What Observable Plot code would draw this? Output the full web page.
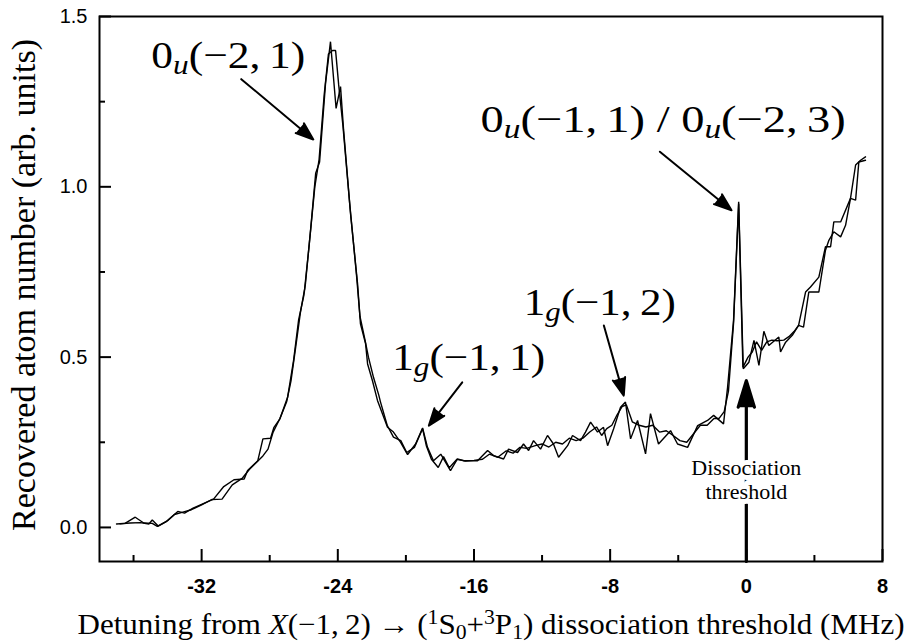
<!DOCTYPE html>
<html><head><meta charset="utf-8">
<script src="https://cdn.jsdelivr.net/npm/d3@7"></script>
<script src="https://cdn.jsdelivr.net/npm/@observablehq/plot@0.6"></script>
<style>body{margin:0;background:#fff}</style>
</head><body><div id="chart"></div>
<script>
// ---- data: two overlapping scans ----
const scanA_x = [-37.0,-36.5,-35.9,-35.4,-34.9,-34.6,-34.0,-33.4,-33.0,-32.5,-31.9,-31.3,-30.7,-30.1,-29.5,-29.3,-28.7,-28.4,-27.95,-27.75,-27.4,-26.95,-26.6,-26.3,-26.0,-25.9,-25.6,-25.3,-25.07,-24.72,-24.43,-24.10,-23.84,-23.66,-23.25,-22.84,-22.67,-22.37,-22.25,-21.96,-21.67,-21.08,-20.73,-20.31,-19.90,-19.43,-19.02,-18.73,-18.38,-17.95,-17.38,-16.97,-16.61,-15.79,-15.20,-14.85,-14.26,-13.97,-13.44,-13.09,-12.79,-12.50,-12.09,-11.68,-11.33,-11.03,-10.50,-10.21,-9.74,-9.45,-9.15,-8.74,-8.39,-8.15,-7.80,-7.39,-7.10,-6.80,-6.39,-5.92,-5.63,-5.16,-4.45,-4.04,-3.45,-2.86,-2.28,-1.92,-1.34,-1.10,-0.75,-0.45,-0.18,0.15,0.45,0.74,1.03,1.32,1.91,2.01,2.31,2.70,3.07,3.36,3.67,4.26,4.65,4.85,5.14,5.54,5.83,6.12,6.42,6.61,7.0];
const scanA_y = [0.010,0.012,0.030,0.013,0.012,0.003,0.020,0.047,0.042,0.057,0.070,0.083,0.120,0.140,0.142,0.167,0.196,0.260,0.262,0.294,0.319,0.382,0.49,0.61,0.68,0.716,0.873,1.04,1.073,1.304,1.426,1.23,1.294,1.167,0.92,0.716,0.598,0.54,0.48,0.43,0.373,0.294,0.28,0.25,0.214,0.245,0.292,0.235,0.196,0.215,0.167,0.201,0.196,0.196,0.226,0.211,0.201,0.230,0.220,0.245,0.226,0.255,0.230,0.270,0.245,0.206,0.240,0.270,0.255,0.280,0.309,0.280,0.294,0.240,0.289,0.353,0.368,0.260,0.314,0.216,0.334,0.245,0.284,0.245,0.235,0.299,0.314,0.329,0.304,0.412,0.608,0.956,0.466,0.485,0.549,0.476,0.576,0.534,0.559,0.515,0.544,0.564,0.593,0.588,0.691,0.691,0.814,0.843,0.868,0.853,0.887,0.966,0.961,1.073,1.078];
const scanB_x = [-36.8,-36.2,-35.6,-35.1,-34.9,-34.55,-34.1,-33.6,-33.1,-32.6,-32.0,-31.4,-30.8,-30.2,-29.6,-29.2,-28.8,-28.4,-28.1,-27.8,-27.4,-27.0,-26.75,-26.5,-26.2,-25.95,-25.7,-25.35,-25.1,-24.8,-24.55,-24.31,-24.13,-23.95,-23.7,-23.3,-22.9,-22.7,-22.4,-22.2,-21.9,-21.6,-21.49,-21.1,-20.73,-20.3,-19.95,-19.5,-19.02,-18.8,-18.5,-18.1,-17.79,-17.45,-17.0,-16.5,-16.0,-15.5,-15.1,-14.6,-14.1,-13.7,-13.3,-12.9,-12.4,-12.0,-11.6,-11.2,-10.8,-10.4,-10.0,-9.6,-9.2,-8.8,-8.5,-8.2,-7.9,-7.6,-7.3,-7.05,-6.7,-6.3,-5.9,-5.5,-5.1,-4.7,-4.3,-3.9,-3.5,-3.1,-2.7,-2.3,-1.9,-1.6,-1.3,-1.05,-0.75,-0.45,-0.2,0.1,0.35,0.6,0.9,1.2,1.5,1.8,2.2,2.5,2.8,3.07,3.48,3.77,4.26,4.65,4.95,5.14,5.54,6.12,6.42,6.71,7.0];
const scanB_y = [0.011,0.013,0.014,0.010,0.022,0.004,0.016,0.038,0.045,0.052,0.066,0.082,0.083,0.125,0.145,0.170,0.190,0.210,0.230,0.280,0.320,0.37,0.43,0.52,0.63,0.70,0.82,1.00,1.08,1.27,1.39,1.40,1.40,1.30,1.18,0.95,0.74,0.62,0.55,0.50,0.44,0.39,0.368,0.30,0.265,0.255,0.22,0.235,0.29,0.24,0.20,0.176,0.208,0.175,0.20,0.195,0.197,0.200,0.215,0.206,0.225,0.218,0.235,0.232,0.240,0.245,0.236,0.250,0.245,0.262,0.255,0.262,0.280,0.295,0.270,0.290,0.300,0.330,0.355,0.360,0.310,0.300,0.295,0.300,0.280,0.284,0.270,0.255,0.250,0.275,0.300,0.300,0.320,0.320,0.340,0.40,0.60,0.95,0.47,0.50,0.515,0.545,0.52,0.545,0.55,0.548,0.55,0.56,0.575,0.593,0.691,0.706,0.735,0.824,0.824,0.897,0.897,0.966,1.064,1.078,1.088];

// ---- ticks ----
const xMajorTicks = [-32, -24, -16, -8, 0, 8];
const xMinorTicks = [-36, -28, -20, -12, -4, 4];
const yMajorTicks = [0, 0.5, 1.0, 1.5];
const yMinorTicks = [0.25, 0.75, 1.25];

// ---- annotations ----
const labelText = ["0u(−2,\u20091)", "0u(−1,\u20091) / 0u(−2,\u20093)", "1g(−1,\u20092)", "1g(−1,\u20091)"];
const labelParts = [
  [["0"], ["u", "sub"], ["(−2,\u20091)"]],
  [["0"], ["u", "sub"], ["(−1,\u20091) / 0"], ["u", "sub"], ["(−2,\u20093)"]],
  [["1"], ["g", "sub"], ["(−1,\u20092)"]],
  [["1"], ["g", "sub"], ["(−1,\u20091)"]]
];
const labelX = [-34.96, -15.61, -13.07, -20.8];
const labelY = [1.349, 1.162, 0.623, 0.461];
const labelWidth = [154, 365, 152, 153];

const arrowX1 = [-29.67, -5.08, -8.37, -16.69];
const arrowY1 = [1.316, 1.103, 0.593, 0.426];
const arrowX2 = [-25.44, -0.87, -7.2, -18.65];
const arrowY2 = [1.139, 0.931, 0.387, 0.299];

const thresholdArrow = {x1: 0, y1: -0.1, x2: 0, y2: 0.431};
const thresholdText = "Dissociation\nthreshold";
const thresholdTextY = 0.141;

const xTitle = "Detuning from X(−1, 2) → (1S0+3P1) dissociation threshold (MHz)";
const xTitleParts = [["Detuning from "], ["X", "it"], ["(−1,\u20092) → ("], ["1", "sup"], ["S"], ["0", "sub0"], ["+"], ["3", "sup"], ["P"], ["1", "sub0"], [") dissociation threshold (MHz)"]];
const yTitle = "Recovered atom number (arb. units)";

// ---- build tables ----
const scans = scanA_x.map((x, i) => ({scan: "A", x, y: scanA_y[i]}))
  .concat(scanB_x.map((x, i) => ({scan: "B", x, y: scanB_y[i]})));
const labels = labelText.map((t, i) => ({t, x: labelX[i], y: labelY[i]}));
const arrows = arrowX1.map((x1, i) => ({x1, y1: arrowY1[i], x2: arrowX2[i], y2: arrowY2[i]}));

const W = 907, H = 643, mL = 99, mR = 25, mT = 16, mB = 82;
const frameW = W - mL - mR, frameH = H - mT - mB;
const serif = "'Liberation Serif', 'Times New Roman', serif";

const plot = Plot.plot({
  width: W, height: H,
  marginLeft: mL, marginRight: mR, marginTop: mT, marginBottom: mB,
  x: {domain: [-38, 8]},
  y: {domain: [-0.1, 1.5]},
  style: {fontFamily: "'Liberation Sans', Arial, sans-serif", background: "#fff", color: "#000", overflow: "visible"},
  marks: [
    Plot.line(scans, {x: "x", y: "y", z: "scan", stroke: "#000", strokeWidth: 1.4, strokeLinejoin: "miter"}),
    // inward ticks
    Plot.ruleX(xMajorTicks, {x: d => d, insetTop: frameH - 12, strokeWidth: 2}),
    Plot.ruleX(xMinorTicks, {x: d => d, insetTop: frameH - 6, strokeWidth: 2}),
    Plot.ruleY(yMajorTicks, {y: d => d, insetRight: frameW - 12, strokeWidth: 2}),
    Plot.ruleY(yMinorTicks, {y: d => d, insetRight: frameW - 6, strokeWidth: 2}),
    Plot.axisX(xMajorTicks, {tickSize: 0, tickPadding: 17, fontSize: 20, fontWeight: "bold", tickFormat: d => String(d), label: null}),
    Plot.axisY(yMajorTicks, {tickSize: 0, tickPadding: 12, fontSize: 20, tickFormat: d => d.toFixed(1), label: null}),
    Plot.frame({strokeWidth: 2}),
    // annotation arrows
    Plot.arrow(arrows, {x1: "x1", y1: "y1", x2: "x2", y2: "y2", stroke: "#000", fill: "#000", strokeWidth: 2, headLength: 14, headAngle: 40}),
    Plot.arrow([thresholdArrow], {x1: "x1", y1: "y1", x2: "x2", y2: "y2", stroke: "#000", fill: "#000", strokeWidth: 3.2, headLength: 13, headAngle: 34}),
    Plot.text([thresholdText], {x: () => 0, y: () => thresholdTextY, text: d => d, fontFamily: serif, fontSize: 22, lineHeight: 1.08, stroke: "#fff", strokeWidth: 10, fill: "#000"}),
    // labels
    Plot.text(labels, {x: "x", y: "y", text: "t", textAnchor: "start", lineAnchor: "bottom", fontFamily: serif, fontSize: 38, fill: "#000"}),
    // axis titles
    Plot.text([xTitle], {frameAnchor: "bottom", dy: 72, text: d => d, textAnchor: "middle", lineAnchor: "bottom", fontFamily: serif, fontSize: 29, fill: "#000"}),
    Plot.text([yTitle], {frameAnchor: "left", dx: -65, dy: -4, rotate: -90, text: d => d, textAnchor: "middle", lineAnchor: "bottom", fontFamily: serif, fontSize: 34, fill: "#000"})
  ]
});

// ---- rich text (sub/superscripts, italics) ----
const NS = "http://www.w3.org/2000/svg";
function rich(el, parts, fs, len) {
  el.textContent = "";
  for (const [t, kind] of parts) {
    const ts = document.createElementNS(NS, "tspan");
    ts.textContent = t;
    if (kind === "sub") { ts.setAttribute("font-size", fs * 0.72); ts.setAttribute("font-style", "italic"); ts.setAttribute("baseline-shift", -0.17 * fs); }
    if (kind === "sub0") { ts.setAttribute("font-size", fs * 0.7); ts.setAttribute("baseline-shift", -0.17 * fs); }
    if (kind === "sup") { ts.setAttribute("font-size", fs * 0.7); ts.setAttribute("baseline-shift", 0.36 * fs); }
    if (kind === "it") { ts.setAttribute("font-style", "italic"); }
    el.appendChild(ts);
  }
  if (len) { el.setAttribute("textLength", len); el.setAttribute("lengthAdjust", "spacingAndGlyphs"); }
}
const texts = Array.from(plot.querySelectorAll("text"));
labelText.forEach((t, i) => {
  const el = texts.find(e => e.textContent === t);
  if (el) rich(el, labelParts[i], 38, labelWidth[i]);
});
const xt = texts.find(e => e.textContent === xTitle);
if (xt) rich(xt, xTitleParts, 29, 827);

document.getElementById("chart").appendChild(plot);
</script>
</body></html>
